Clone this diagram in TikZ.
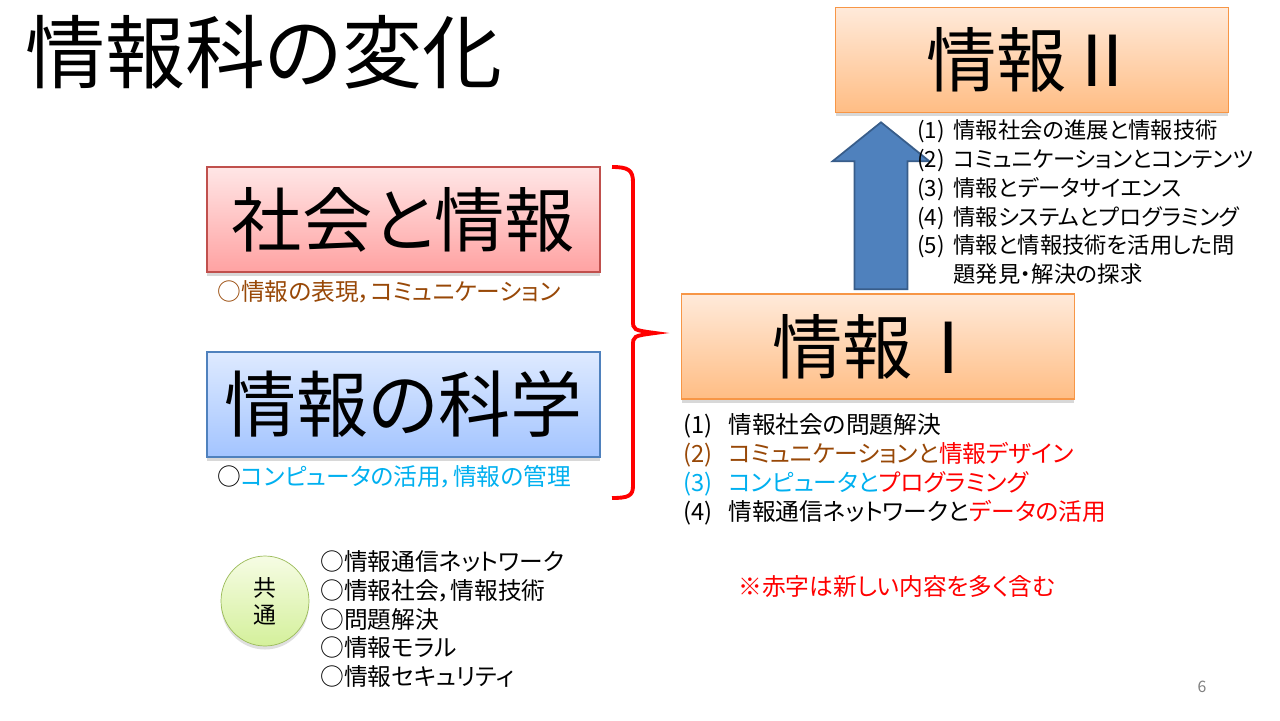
\documentclass[tikz,border=0pt]{standalone}
\usepackage{fontspec}
\setmainfont{Noto Sans CJK JP}[RawFeature=+palt]
\usepackage{tikz}
\usetikzlibrary{positioning, shapes.geometric, shadows, calc}
\definecolor{pinktop}{RGB}{255,230,230}
\definecolor{pinkbot}{RGB}{255,162,162}
\definecolor{pinkline}{RGB}{192,80,77}
\definecolor{bluetop}{RGB}{222,234,255}
\definecolor{bluebot}{RGB}{163,196,255}
\definecolor{blueline}{RGB}{79,129,189}
\definecolor{orantop}{RGB}{255,234,218}
\definecolor{oranbot}{RGB}{255,189,132}
\definecolor{oranline}{RGB}{247,150,70}
\definecolor{greentop}{RGB}{246,252,228}
\definecolor{greenbot}{RGB}{212,240,155}
\definecolor{greenline}{RGB}{155,187,89}
\definecolor{arrowfill}{RGB}{79,129,189}
\definecolor{arrowline}{RGB}{56,93,138}
\definecolor{brown}{RGB}{152,72,7}
\definecolor{cyan}{RGB}{0,176,240}
\definecolor{red}{RGB}{255,0,0}
\tikzset{
    subjbox/.style={draw, line width=0.8pt, minimum width=7.86cm, minimum height=2.1cm, inner sep=0pt,
        font=\fontsize{40}{44}\selectfont,
        drop shadow={shadow xshift=0pt, shadow yshift=-2pt, opacity=.3}},
    pinkbox/.style={subjbox, draw=pinkline, top color=pinktop, bottom color=pinkbot},
    bluebox/.style={subjbox, draw=blueline, top color=bluetop, bottom color=bluebot},
    oranbox/.style={subjbox, draw=oranline, top color=orantop, bottom color=oranbot},
    itemlist/.style={anchor=west, inner sep=0pt, align=left, font=\fontsize{13.5}{16.4}\selectfont},
    bigarrow/.style={fill=arrowfill, draw=arrowline, line width=1pt},
}

\begin{document}
\begin{tikzpicture}[x=0.02cm, y=-0.02cm]
    \fill[white] (0,0) rectangle (1280,720);
    \useasboundingbox (0,0) rectangle (1280,720);
    \node[anchor=west, inner sep=0pt, font=\fontsize{45.5}{48}\selectfont] (title) at (25,52) {情報科の変化};

    \node[pinkbox] (shakai) at (403.5,219.5) {社会と情報};
    \node[bluebox, font=\fontsize{41}{44}\selectfont] (kagaku) at (403.5,404.5) {情報の科学};
    \node[oranbox] (info1) at (878,346.5) {情報Ⅰ};
    \node[oranbox] (info2) at (1032,60) {情報Ⅱ};

    \node[itemlist, text=brown] (cap1) at (217,292) {○情報の表現，コミュニケーション};
    \node[itemlist] (cap2) at (217,477) {○\textcolor{cyan}{コンピュータの活用，情報の管理}};

    \draw[red, line width=2.2pt] (612,167) .. controls (628,167) and (633,170) .. (633,182) -- (633,320)
        .. controls (633,330) .. (655,333) .. controls (633,336) .. (633,346) -- (633,486)
        .. controls (633,496) and (628,498) .. (612,498);

    \coordinate (abase) at ($(info1.north)+(3,-4)$);
    \draw[bigarrow] (abase) ++(-26.5,0) -- ++(0,-128) -- ++(-22,0) -- ++(48.5,-39) -- ++(48.5,39)
        -- ++(-22,0) -- ++(0,128) -- cycle;

    \node[itemlist, font=\fontsize{12.7}{16.4}\selectfont] (list2) at (917,205) {\begin{tabular}{@{}l@{\hspace{5pt}}l@{}}
        (1) & 情報社会の進展と情報技術\\
        (2) & コミュニケーションとコンテンツ\\
        (3) & 情報とデータサイエンス\\
        (4) & 情報システムとプログラミング\\
        (5) & 情報と情報技術を活用した問\\
            & 題発見・解決の探求
    \end{tabular}};

    \node[itemlist] (list1) at (683,471) {\begin{tabular}{@{}l@{\hspace{9pt}}l@{}}
        (1) & 情報社会の問題解決\\
        \textcolor{brown}{(2)} & \textcolor{brown}{コミュニケーションと}\textcolor{red}{情報デザイン}\\
        \textcolor{cyan}{(3)} & \textcolor{cyan}{コンピュータと}\textcolor{red}{プログラミング}\\
        (4) & 情報通信ネットワークと\textcolor{red}{データの活用}
    \end{tabular}};

    \node[ellipse, draw=greenline, top color=greentop, bottom color=greenbot, minimum width=1.76cm,
        minimum height=1.8cm, align=center, font=\fontsize{13}{15.3}\selectfont,
        drop shadow={shadow xshift=0pt, shadow yshift=-2pt, opacity=.25}] (kyotsu) at (265,601) {共\\通};
    \node[itemlist] (common) at (320,619) {○情報通信ネットワーク\\○情報社会，情報技術\\○問題解決\\○情報モラル\\○情報セキュリティ};

    \node[itemlist, text=red] (note) at (738,587) {※赤字は新しい内容を多く含む};
    \node[inner sep=0pt, text=gray, font=\fontsize{9}{10}\selectfont] (page) at (1202,687) {6};
\end{tikzpicture}
\end{document}
